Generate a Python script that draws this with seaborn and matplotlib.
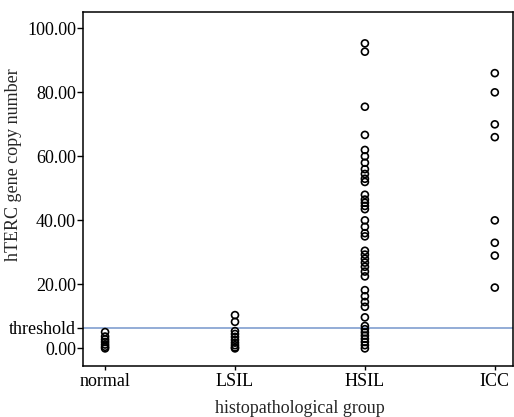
import matplotlib
matplotlib.use("Agg")
import matplotlib.pyplot as plt
import pandas as pd
import seaborn as sns

groups = ["normal", "LSIL", "HSIL", "ICC"]

normal_vals = [5.1, 3.7, 2.8, 2.0, 1.2, 0.5, 0.0]
lsil_vals = [10.4, 8.3, 5.4, 4.5, 3.6, 2.7, 1.8, 1.0, 0.3, 0.0]
hsil_vals = [95.3, 92.7, 75.5, 66.7,
             62.0, 60.0, 58.0, 56.0, 54.5, 53.0, 52.0,
             48.0, 46.5, 45.5, 44.5, 43.5,
             40.0, 38.0, 36.0, 35.0,
             30.5, 29.3, 28.0, 26.8, 25.5, 24.0, 22.5,
             18.2, 16.3, 14.5, 13.0,
             9.7,
             7.0, 6.0, 5.0, 4.0, 3.0, 2.0, 1.0, 0.0]
icc_vals = [86.0, 80.0, 70.0, 66.0, 40.0, 33.0, 29.0, 19.0]

threshold = 6.4
y_ticks = [0, 20, 40, 60, 80, 100]

df = pd.concat([
    pd.DataFrame({"group": g, "copy": v})
    for g, v in zip(groups, [normal_vals, lsil_vals, hsil_vals, icc_vals])
], ignore_index=True)

sns.set_style("ticks")
plt.rcParams["font.family"] = ["Liberation Serif", "DejaVu Serif"]
plt.rcParams["font.size"] = 13

fig = plt.figure(figsize=(5.14, 4.17), dpi=100)
ax = fig.add_axes([83 / 514, 51 / 417, 430 / 514, 354 / 417])

sns.stripplot(data=df, x="group", y="copy", order=groups, jitter=False,
              size=5.0, linewidth=1.2, color="black", ax=ax)
for c in ax.collections:
    c.set_facecolor("none")
    c.set_edgecolor("black")

ax.axhline(threshold, color="#93acd6", lw=1.4, zorder=0)

ax.set_xlim(-0.17, 3.14)
ax.set_ylim(-5.5, 105.1)
ticks = y_ticks[:1] + [threshold] + y_ticks[1:]
ax.set_yticks(ticks)
ax.set_yticklabels(["0.00", "threshold"] + [f"{t:.2f}" for t in y_ticks[1:]])
ax.tick_params(axis="both", direction="out", length=4, width=1, colors="black",
               labelsize=13, pad=1)
ax.tick_params(axis="x", length=3, pad=2)

for s in ax.spines.values():
    s.set_visible(True)
    s.set_linewidth(1.1)
    s.set_color("black")

ax.set_xlabel("histopathological group", fontsize=13)
ax.set_ylabel("hTERC gene copy number", fontsize=13)
ax.xaxis.set_label_coords(0.505, -0.095)
ax.yaxis.set_label_coords(-0.143, 0.57)

fig.savefig("out.png", dpi=100)
